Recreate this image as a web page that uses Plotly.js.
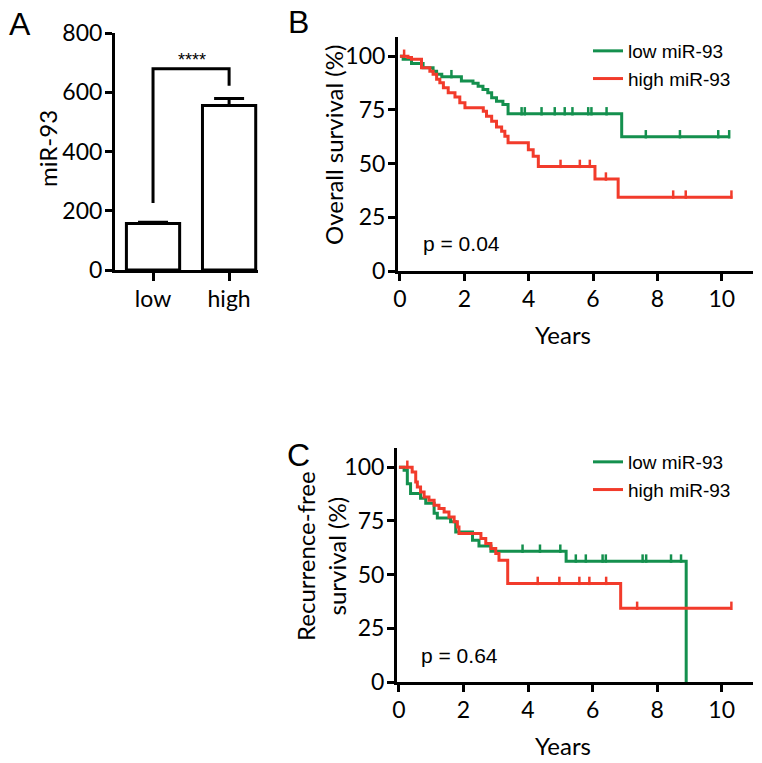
<!DOCTYPE html>
<html>
<head>
<meta charset="utf-8">
<script src="https://cdn.plot.ly/plotly-3.0.1.min.js"></script>
<style>
    html, body { margin: 0; padding: 0; background: white; }
    #chart { width: 762px; height: 763px; }
</style>
</head>
<body>
<div id="chart"></div>
<script>
// Panel A: miR-93 expression
const barCategories = ['low', 'high']
const barMeans = [157, 555]
const barErrors = [4, 24]
const bracketX = ['low', 'low', 'high', 'high']
const bracketY = [226, 679, 679, 622]

// Panel B: overall survival (Kaplan-Meier steps)
const osLowTimes = [0, 0.1, 0.36, 0.72, 1.03, 1.14, 1.3, 1.91, 2.27, 2.43, 2.58, 2.73, 2.85, 3.0, 3.2, 3.36, 6.89, 10.25]
const osLowSurv = [100, 98.6, 96.7, 94.7, 93.1, 91.6, 90.5, 88.5, 87.4, 86.1, 84.6, 83.0, 80.7, 79.1, 77.6, 73.2, 62.5, 62.5]
const osLowCensor = [1.6, 3.78, 3.88, 4.4, 4.81, 5.12, 5.36, 5.85, 5.95, 6.42, 7.64, 8.7, 9.89, 10.23]

const osHighTimes = [0, 0.25, 0.36, 0.67, 0.93, 1.03, 1.14, 1.24, 1.35, 1.5, 1.71, 1.86, 2.02, 2.59, 2.69, 2.85, 3.0, 3.16, 3.26, 3.36, 3.99, 4.14, 4.3, 6.06, 6.78, 10.33]
const osHighSurv = [100, 99.4, 98.6, 94.7, 93.1, 91.6, 89.3, 87.7, 85.4, 83.0, 81.1, 78.4, 76.0, 74.4, 72.1, 69.8, 67.1, 65.1, 62.8, 59.7, 56.5, 53.4, 48.7, 42.8, 34.4, 34.4]
const osHighCensor = [0.13, 4.99, 5.59, 5.9, 6.4, 8.49, 8.88, 10.3]

// Panel C: recurrence-free survival
const rfsLowTimes = [0, 0.16, 0.26, 0.36, 0.67, 0.83, 1.09, 1.19, 1.6, 1.76, 2.28, 2.48, 2.85, 5.18, 8.9]
const rfsLowSurv = [100, 98.6, 92.4, 87.8, 85.6, 83.3, 78.6, 76.4, 74.6, 69.9, 66.0, 63.3, 60.9, 56.3, 0]
const rfsLowCensor = [3.83, 4.37, 5.0, 5.48, 5.79, 6.31, 6.41, 7.55, 7.66, 8.43, 8.74]

const rfsHighTimes = [0, 0.41, 0.52, 0.57, 0.67, 0.78, 0.93, 1.09, 1.24, 1.4, 1.55, 1.71, 1.81, 1.86, 2.54, 2.69, 2.85, 3.0, 3.1, 3.37, 6.87, 10.3]
const rfsHighSurv = [100, 97.8, 93.2, 90.8, 88.5, 86.2, 84.7, 82.3, 80.8, 79.2, 76.9, 74.6, 72.2, 69.2, 66.8, 64.5, 62.2, 59.9, 56.7, 45.9, 34.3, 34.3]
const rfsHighCensor = [0.26, 4.3, 4.97, 5.59, 5.9, 6.42, 7.38, 10.3]

const seriesNames = ['low miR-93', 'high miR-93']
const yearTicks = [0, 2, 4, 6, 8, 10]
const survTicks = [0, 25, 50, 75, 100]

const W = 762
const H = 763
const green = '#14904e'
const red = '#f23b2b'
const tickFamily = 'Lato, sans-serif'
const arial = '"Liberation Sans", Arial, sans-serif'

// survival value at time t for a step curve
function survAt(times, surv, t) {
    let v = surv[0]
    for (let i = 0; i < times.length; i++) {
        if (times[i] <= t) v = surv[i]
    }
    return v
}

function kmTraces(times, surv, censor, color, name, xa, ya, legend) {
    const line = {
        x: times,
        y: surv,
        mode: 'lines',
        line: { color: color, width: 3, shape: 'hv' },
        name: name,
        xaxis: xa,
        yaxis: ya,
        legend: legend,
        hoverinfo: 'skip',
    }
    const ticks = {
        x: censor,
        y: censor.map((t) => survAt(times, surv, t) + 1.2),
        mode: 'markers',
        marker: { symbol: 'line-ns', size: 6, line: { color: color, width: 2.5 } },
        xaxis: xa,
        yaxis: ya,
        showlegend: false,
        hoverinfo: 'skip',
    }
    return [line, ticks]
}

const bars = {
    x: barCategories,
    y: barMeans,
    type: 'bar',
    width: 0.7,
    marker: { color: 'white', line: { color: 'black', width: 3 } },
    error_y: { type: 'data', symmetric: false, array: barErrors, arrayminus: [0, 0], color: 'black', thickness: 3, width: 15 },
    xaxis: 'x',
    yaxis: 'y',
    showlegend: false,
    hoverinfo: 'skip',
}

const bracket = {
    x: bracketX,
    y: bracketY,
    mode: 'lines',
    line: { color: 'black', width: 3 },
    xaxis: 'x',
    yaxis: 'y',
    showlegend: false,
    hoverinfo: 'skip',
}

const data = [bars, bracket]
    .concat(kmTraces(osLowTimes, osLowSurv, osLowCensor, green, seriesNames[0], 'x2', 'y2', 'legend'))
    .concat(kmTraces(osHighTimes, osHighSurv, osHighCensor, red, seriesNames[1], 'x2', 'y2', 'legend'))
    .concat(kmTraces(rfsLowTimes, rfsLowSurv, rfsLowCensor, green, seriesNames[0], 'x3', 'y3', 'legend2'))
    .concat(kmTraces(rfsHighTimes, rfsHighSurv, rfsHighCensor, red, seriesNames[1], 'x3', 'y3', 'legend2'))

const axisBase = {
    showline: true,
    linewidth: 3,
    linecolor: 'black',
    ticks: 'outside',
    tickwidth: 3,
    ticklen: 7,
    tickcolor: 'black',
    showgrid: false,
    zeroline: false,
    ticklabelstandoff: -2,
    tickfont: { family: tickFamily, size: 23, color: 'black' },
    fixedrange: true,
}

const px = (v) => v / W
const py = (v) => 1 - v / H

function note(text, x, y, opts = {}) {
    return Object.assign({
        text: text,
        xref: 'paper',
        yref: 'paper',
        x: px(x),
        y: py(y),
        xanchor: 'center',
        yanchor: 'middle',
        showarrow: false,
        font: { family: tickFamily, size: 24, color: 'black' },
    }, opts)
}

const legendBase = {
    xanchor: 'left',
    yanchor: 'top',
    bgcolor: 'rgba(0,0,0,0)',
    font: { family: arial, size: 19, color: 'black' },
    itemwidth: 30,
}

const layout = {
    width: W,
    height: H,
    margin: { l: 0, r: 0, t: 0, b: 0 },
    paper_bgcolor: 'white',
    plot_bgcolor: 'white',
    xaxis: Object.assign({}, axisBase, {
        domain: [px(115), px(258)],
        anchor: 'y',
        type: 'category',
        range: [-0.5, 1.38],
        ticklen: 8,
    }),
    yaxis: Object.assign({}, axisBase, {
        domain: [py(270), py(33)],
        anchor: 'x',
        range: [0, 800],
        dtick: 200,
    }),
    xaxis2: Object.assign({}, axisBase, {
        domain: [px(398), px(753)],
        anchor: 'y2',
        range: [-0.06, 10.97],
        tickvals: yearTicks,
    }),
    yaxis2: Object.assign({}, axisBase, {
        domain: [py(271), py(37)],
        anchor: 'x2',
        range: [0, 109],
        tickvals: survTicks,
    }),
    xaxis3: Object.assign({}, axisBase, {
        domain: [px(397), px(753)],
        anchor: 'y3',
        range: [-0.06, 10.97],
        tickvals: yearTicks,
    }),
    yaxis3: Object.assign({}, axisBase, {
        domain: [py(682), py(448)],
        anchor: 'x3',
        range: [0, 109],
        tickvals: survTicks,
    }),
    legend: Object.assign({}, legendBase, { x: px(588), y: py(32) }),
    legend2: Object.assign({}, legendBase, { x: px(588), y: py(443) }),
    annotations: [
        note('A', 20, 24, { font: { family: arial, size: 32, color: 'black' } }),
        note('B', 298, 22, { font: { family: arial, size: 32, color: 'black' } }),
        note('C', 298, 455, { font: { family: arial, size: 32, color: 'black' } }),
        note('****', 192, 60, { font: { family: arial, size: 18, color: 'black' } }),
        note('miR-93', 47, 149, { textangle: -90 }),
        note('Overall survival (%)', 333, 145, { textangle: -90 }),
        note('Recurrence-free<br>survival (%)', 321, 556, { textangle: -90 }),
        note('Years', 563, 334),
        note('Years', 563, 745),
        note('p = 0.04', 421, 243, { xanchor: 'left', font: { family: arial, size: 21, color: 'black' } }),
        note('p = 0.64', 419, 655, { xanchor: 'left', font: { family: arial, size: 21, color: 'black' } }),
    ],
}

Plotly.newPlot('chart', data, layout, { displayModeBar: false, staticPlot: true })
</script>
</body>
</html>
